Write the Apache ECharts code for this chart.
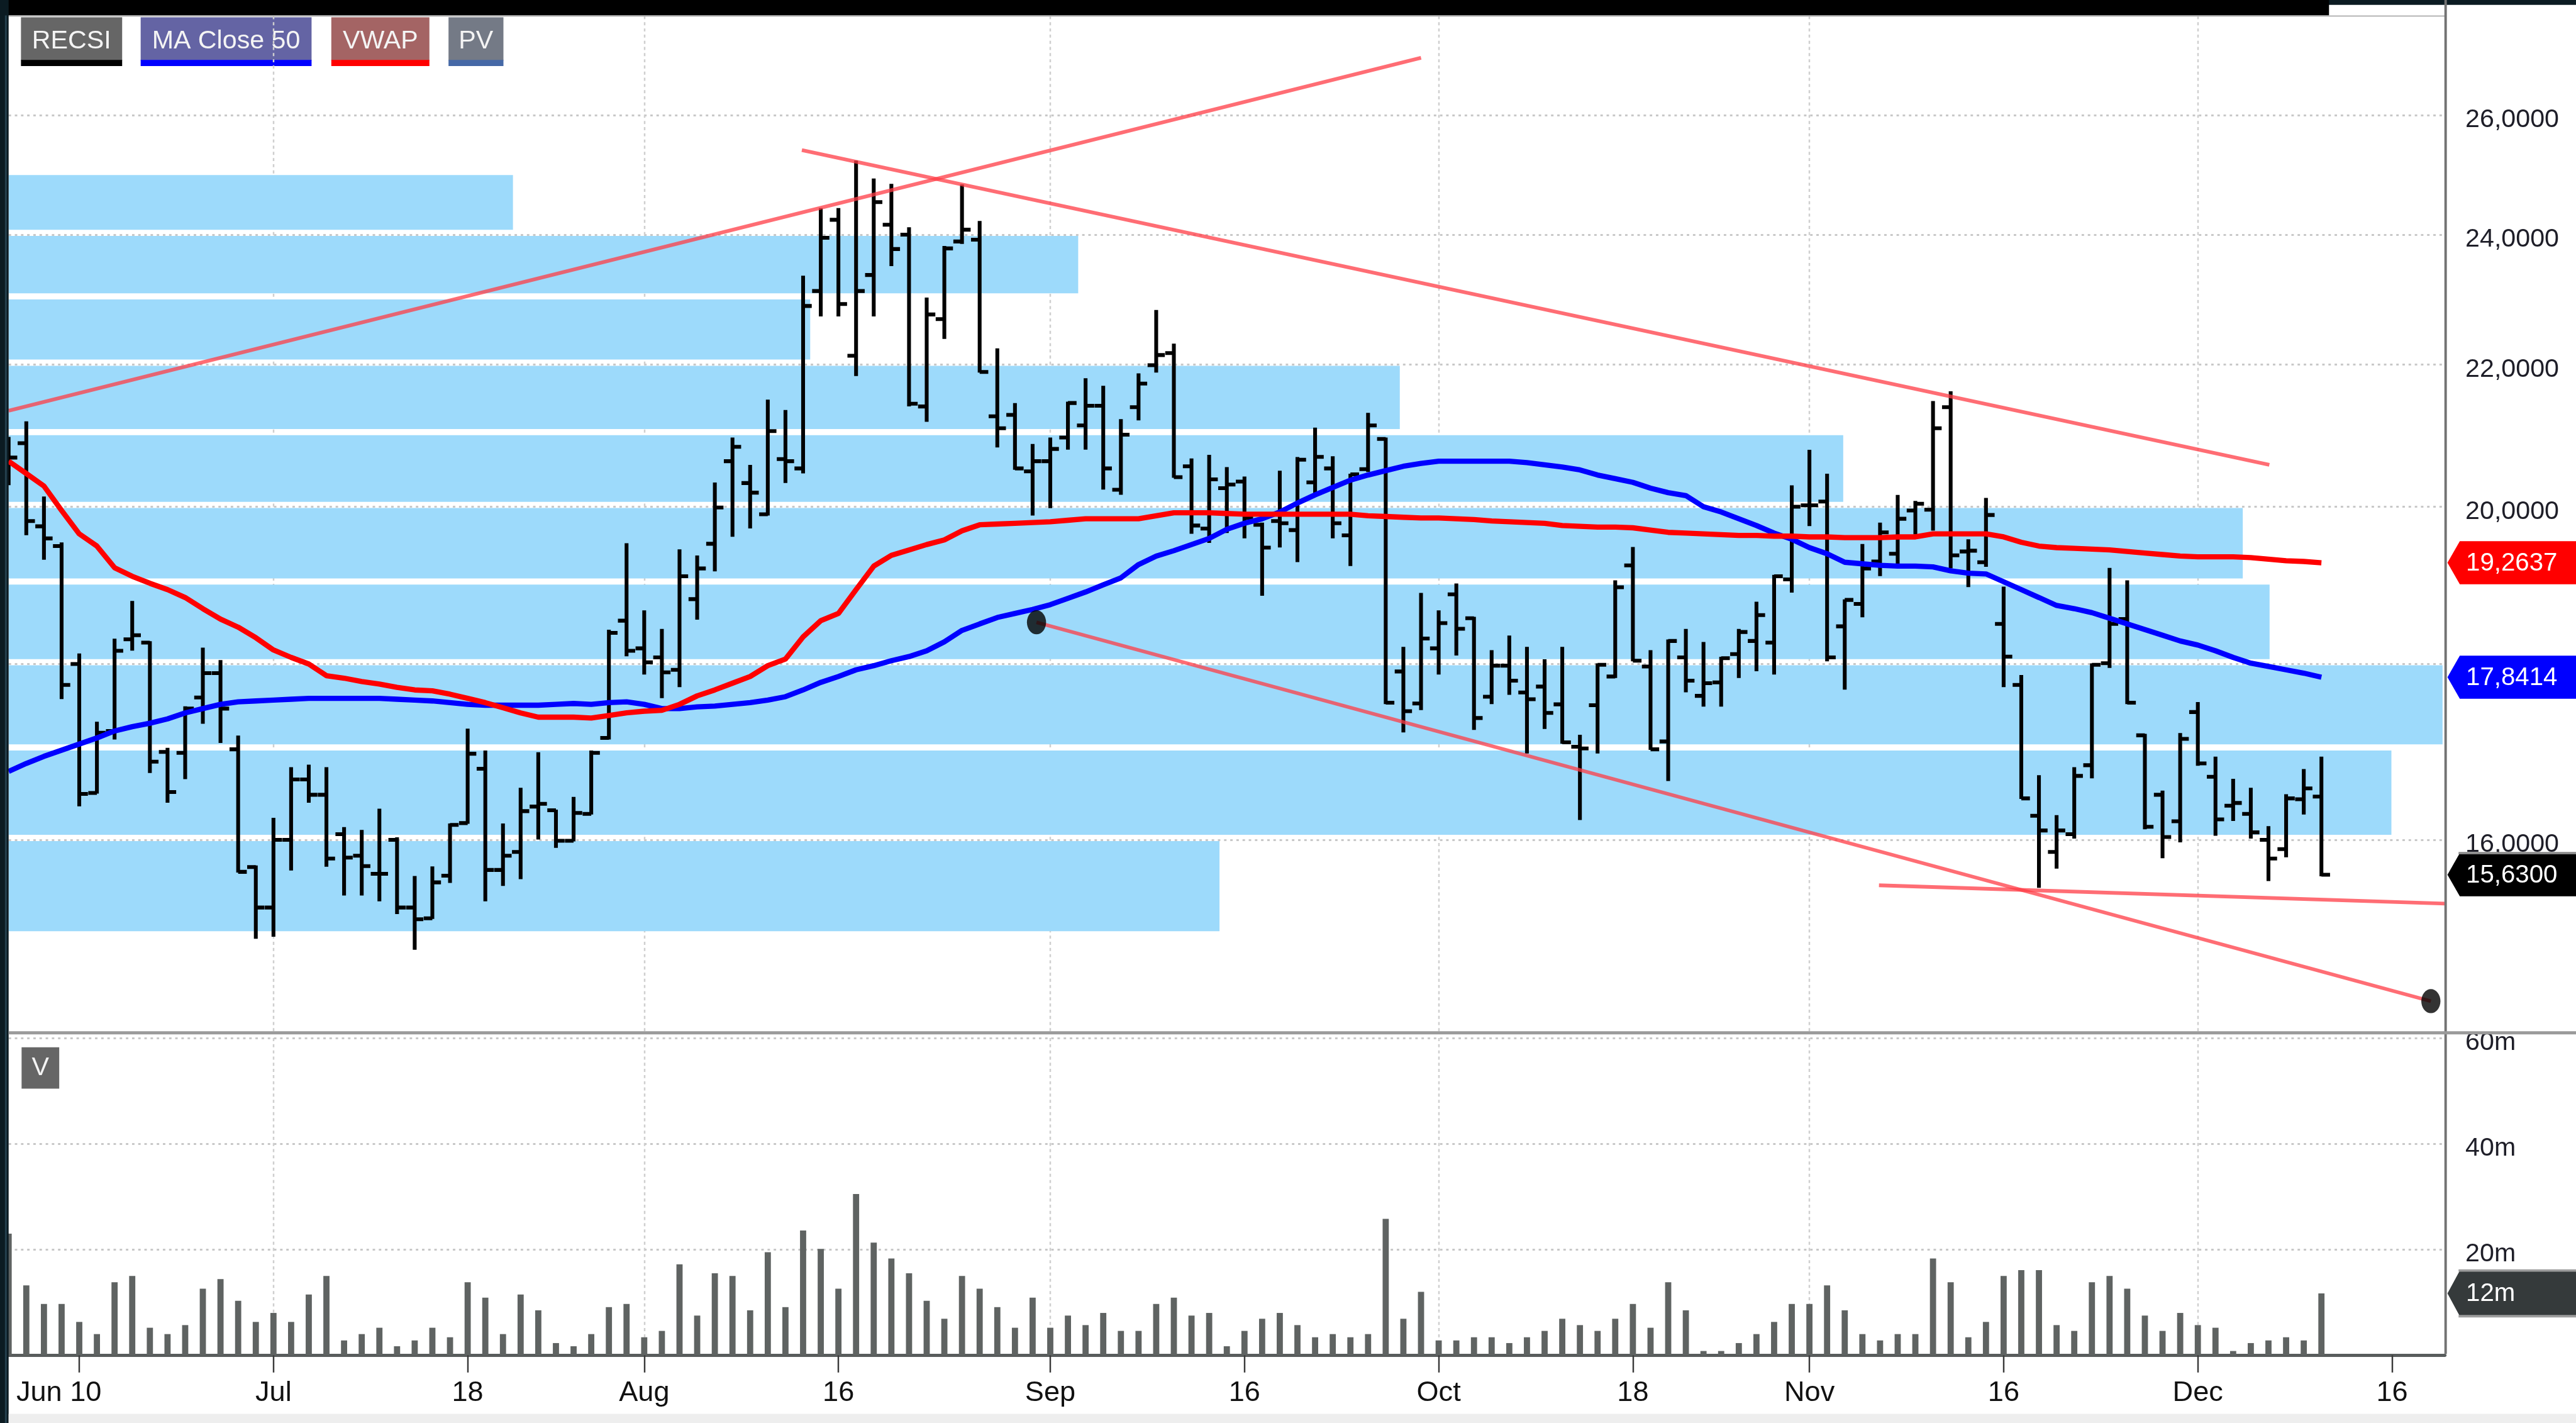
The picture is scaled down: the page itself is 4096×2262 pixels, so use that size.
<!DOCTYPE html>
<html>
<head>
<meta charset="utf-8">
<title>RECSI</title>
<script src="https://cdn.jsdelivr.net/npm/echarts@6.0.0/dist/echarts.min.js"></script>
<style>
  html, body { margin: 0; padding: 0; background: #fff; }
  #chart { width: 4096px; height: 2262px; }
</style>
</head>
<body>
<div id="chart"></div>
<script>
const S = 0.981;                 // reference px -> window px
const R = v => v * S;
const FONT = "'Liberation Sans', Arial, sans-serif";

// daily bars, one entry per slot on the x axis (slot 0 = left edge)
const opens = [
  20.50,20.87,19.74,19.48,18.00,16.51,17.21,18.30,18.26,16.97,
  16.96,17.60,17.89,17.00,15.71,15.29,16.00,16.66,16.49,16.06,
  15.83,15.64,16.00,15.29,15.18,15.62,16.18,16.78,15.68,15.87,
  16.36,16.32,15.99,16.28,17.13,18.53,18.19,18.08,17.93,18.80,
  19.51,20.62,20.32,19.90,20.65,20.52,23.11,24.24,22.13,23.36,
  24.16,24.00,21.39,22.68,23.89,23.92,21.25,21.27,20.48,20.62,
  20.95,21.12,21.40,20.23,21.38,21.99,22.17,20.55,19.71,20.25,
  20.34,19.76,19.81,19.69,20.33,20.52,19.62,20.51,20.93,17.91,
  17.53,18.19,18.86,18.56,17.61,17.98,17.66,17.73,17.52,17.03,
  17.51,17.85,19.23,17.97,17.09,18.08,17.62,17.78,18.12,18.28,
  18.26,19.05,20.02,20.07,18.46,18.74,19.28,19.38,19.95,19.96,
  21.38,19.41,19.27,18.49,17.75,16.26,15.87,16.06,16.82,18.01,
  18.55,17.16,16.49,16.20,17.43,16.69,16.37,16.28,16.00,15.90,
  16.44,16.47
];
const highs = [
  20.95,21.17,20.13,19.52,18.12,17.31,18.30,18.77,18.27,17.01,
  17.49,18.19,18.04,17.15,15.72,16.23,16.79,16.82,16.79,16.13,
  16.10,16.33,16.02,15.61,15.71,16.17,17.23,16.98,16.17,16.56,
  16.96,16.32,16.46,16.98,18.41,19.51,18.65,18.42,19.43,19.35,
  20.32,20.94,20.56,21.48,21.33,23.34,24.42,24.42,25.21,24.91,
  24.82,24.11,23.00,23.81,24.81,24.21,22.23,21.43,20.85,20.94,
  21.45,21.79,21.68,21.20,21.86,22.81,22.30,20.65,20.70,20.53,
  20.40,19.78,20.48,20.67,21.08,20.68,20.44,21.29,20.94,18.20,
  18.87,18.65,18.99,18.57,18.16,18.34,18.20,18.05,18.20,17.16,
  18.00,19.03,19.46,18.16,18.29,18.42,18.26,18.08,18.42,18.76,
  19.10,20.28,20.77,20.44,18.79,19.50,19.78,20.15,20.07,21.46,
  21.60,19.56,20.11,18.95,17.86,16.70,16.26,16.79,18.00,19.19,
  19.03,17.17,16.53,17.18,17.54,16.91,16.66,16.56,16.14,16.49,
  16.77,16.91
];
const lows = [
  20.30,19.63,19.31,17.59,16.37,16.51,17.12,18.17,16.74,16.41,
  16.67,17.30,17.08,15.66,14.98,15.00,15.68,16.41,15.72,15.42,
  15.42,15.36,15.23,14.87,15.18,15.55,16.18,15.36,15.52,15.59,
  16.01,15.92,15.99,16.28,17.12,18.10,17.88,17.60,17.73,18.55,
  19.16,19.61,19.72,19.89,20.33,20.46,22.73,22.73,21.84,22.73,
  23.51,21.40,21.18,22.39,23.86,21.89,20.82,20.51,19.89,19.99,
  20.79,20.79,20.24,20.17,21.20,21.89,20.40,19.65,19.53,19.66,
  19.59,18.85,19.47,19.28,20.19,19.59,19.23,20.48,17.53,17.20,
  17.46,17.88,18.11,17.23,17.53,17.64,16.96,17.24,17.07,16.22,
  16.96,17.84,18.04,17.00,16.65,17.67,17.50,17.50,17.84,17.92,
  17.88,18.89,19.75,18.04,17.70,18.58,19.10,19.25,19.64,19.69,
  19.20,18.96,19.22,17.73,16.45,15.50,15.70,16.02,16.68,17.96,
  17.53,16.12,15.81,15.98,16.82,16.05,16.21,16.02,15.57,15.82,
  16.28,15.62
];
const closes = [
  20.67,19.81,19.58,17.75,16.50,17.19,18.16,18.35,16.86,16.52,
  17.47,17.89,17.47,15.66,15.29,16.00,16.66,16.49,15.80,15.81,
  15.72,15.64,15.29,15.17,15.55,16.16,16.95,15.68,15.83,16.31,
  16.39,15.99,16.29,16.96,18.38,18.16,18.02,17.90,19.09,19.19,
  19.99,20.82,20.19,21.04,20.62,22.88,23.95,22.91,23.11,24.53,
  23.77,21.43,22.75,23.78,24.08,21.89,21.08,20.52,20.62,20.79,
  21.44,21.40,20.52,20.99,21.72,22.14,20.40,19.75,20.37,20.30,
  19.85,19.46,19.78,20.64,20.68,19.78,20.44,21.12,17.54,17.44,
  18.31,18.50,18.43,17.36,17.98,17.80,17.58,17.42,17.08,17.01,
  17.99,18.95,18.04,17.00,18.28,17.80,17.77,18.07,18.39,18.60,
  19.09,20.00,20.02,18.08,18.79,19.19,19.66,19.84,20.04,21.08,
  19.36,19.42,19.89,18.09,16.45,16.10,16.10,16.70,17.99,18.49,
  17.54,16.14,16.03,17.12,16.84,16.22,16.40,16.08,15.80,16.45,
  16.56,15.63
];
// volume, millions
const volumes = [
  23.0,13.2,9.7,9.7,6.3,4.0,13.8,15.0,5.2,4.0,
  5.7,12.6,14.4,10.3,6.3,8.0,6.3,11.5,15.0,2.8,
  4.0,5.2,1.7,2.8,5.2,3.4,13.8,10.9,4.0,11.5,
  8.5,2.3,1.7,4.0,9.1,9.7,3.4,4.6,17.2,7.5,
  15.5,15.0,8.5,19.5,9.1,23.6,20.1,12.6,30.5,21.3,
  18.3,15.5,10.3,6.9,15.0,12.6,9.1,5.2,10.9,5.2,
  7.5,5.7,8.0,4.6,4.6,9.7,10.9,7.5,8.0,1.7,
  4.6,6.9,8.0,5.7,3.4,4.0,3.4,4.0,25.8,6.9,
  12.0,2.8,2.8,3.4,3.4,2.3,3.4,4.6,6.9,5.7,
  4.6,6.9,9.7,5.2,13.8,8.5,0.8,0.8,2.3,4.0,
  6.3,9.7,9.7,13.2,8.5,4.0,2.8,4.0,4.0,18.3,
  13.8,3.4,6.3,15.0,16.1,16.1,5.7,4.6,13.8,15.0,
  12.6,7.5,4.6,8.0,5.7,5.2,0.8,2.3,2.8,3.4,
  2.8,11.7
];
const ma50 = [
  16.75,16.84,16.92,16.99,17.06,17.13,17.21,17.26,17.30,17.35,
  17.42,17.47,17.52,17.55,17.56,17.57,17.58,17.59,17.59,17.59,
  17.59,17.59,17.58,17.57,17.56,17.54,17.52,17.51,17.51,17.51,
  17.51,17.52,17.53,17.52,17.54,17.55,17.52,17.47,17.47,17.49,
  17.50,17.52,17.54,17.57,17.61,17.69,17.78,17.85,17.93,17.98,
  18.04,18.09,18.16,18.27,18.41,18.49,18.57,18.62,18.67,18.73,
  18.81,18.89,18.98,19.07,19.24,19.35,19.42,19.50,19.58,19.70,
  19.78,19.84,19.93,20.05,20.16,20.26,20.36,20.43,20.49,20.55,
  20.59,20.62,20.62,20.62,20.62,20.62,20.60,20.57,20.54,20.50,
  20.43,20.38,20.33,20.25,20.19,20.15,20.00,19.93,19.84,19.75,
  19.65,19.57,19.46,19.38,19.27,19.25,19.23,19.22,19.22,19.21,
  19.16,19.13,19.12,19.02,18.92,18.82,18.72,18.68,18.63,18.56,
  18.49,18.42,18.35,18.28,18.23,18.16,18.08,18.01,17.97,17.93,
  17.89,17.8414
];
const vwap = [
  20.62,20.45,20.28,19.95,19.64,19.48,19.20,19.09,19.00,18.92,
  18.82,18.68,18.55,18.45,18.32,18.17,18.08,18.00,17.86,17.83,
  17.79,17.76,17.72,17.69,17.68,17.64,17.59,17.54,17.48,17.42,
  17.37,17.37,17.37,17.36,17.39,17.42,17.44,17.45,17.52,17.62,
  17.69,17.77,17.85,17.98,18.06,18.33,18.53,18.62,18.92,19.22,
  19.36,19.43,19.50,19.56,19.68,19.76,19.77,19.78,19.79,19.80,
  19.82,19.84,19.84,19.84,19.84,19.88,19.92,19.92,19.92,19.91,
  19.90,19.90,19.90,19.90,19.90,19.90,19.90,19.88,19.87,19.86,
  19.85,19.85,19.84,19.83,19.81,19.80,19.79,19.78,19.75,19.74,
  19.73,19.73,19.72,19.69,19.66,19.65,19.64,19.63,19.62,19.62,
  19.61,19.61,19.60,19.60,19.59,19.59,19.59,19.60,19.60,19.64,
  19.64,19.64,19.64,19.60,19.53,19.48,19.46,19.45,19.44,19.43,
  19.41,19.39,19.37,19.35,19.34,19.34,19.34,19.33,19.31,19.29,
  19.28,19.2637
];

// price-volume profile: 1-unit price bands, length in % of the panel width
const pvLow = [15, 16, 17, 18, 19, 20, 21, 22, 23, 24];
const pvVolume = [49.7, 97.8, 99.9, 92.8, 91.7, 75.3, 57.1, 32.9, 43.9, 20.7];

// x axis
const slotCount = 139;
const tickSlots = [4, 15, 26, 36, 47, 59, 70, 81, 92, 102, 113, 124, 135];
const tickLabels = ['Jun 10', 'Jul', '18', 'Aug', '16', 'Sep', '16', 'Oct', '18', 'Nov', '16', 'Dec', '16'];
const monthSlots = [15, 36, 59, 81, 102, 124];

// y axes
const priceGridValues = [16, 18, 20, 22, 24, 26];
const priceLabelValues = [16, 20, 22, 24, 26];
const priceMin = 14.068, priceMax = 27.786;

// hand drawn trend lines, [slot, price] end points
const trendLines = [
  [[0, 21.33], [80.0, 27.02]],
  [[44.93, 25.40], [128.05, 20.57]],
  [[58.22, 18.51], [137.2, 14.36]],
  [[105.94, 15.52], [138, 15.33]]
];
const anchorDots = [[58.22, 18.51], [137.2, 14.36]];

const categories = Array.from({ length: slotCount }, (_, i) => String(i));
const labelBySlot = {};
tickSlots.forEach((s, i) => { labelBySlot[s] = tickLabels[i]; });

const fmtPrice = v => Number(v).toFixed(4).replace('.', ',');

function renderOhlc(params, api) {
  const i = api.value(0);
  const o = api.coord([i, api.value(1)]);
  const h = api.coord([i, api.value(2)]);
  const l = api.coord([i, api.value(3)]);
  const c = api.coord([i, api.value(4)]);
  const t = R(14);
  const st = () => ({ stroke: '#000', lineWidth: R(6.2) });
  return {
    type: 'group',
    children: [
      { type: 'line', shape: { x1: h[0], y1: h[1] - R(1), x2: l[0], y2: l[1] + R(1) }, style: st() },
      { type: 'line', shape: { x1: o[0] - t, y1: o[1], x2: o[0], y2: o[1] }, style: st() },
      { type: 'line', shape: { x1: c[0], y1: c[1], x2: c[0] + t, y2: c[1] }, style: st() }
    ]
  };
}

function renderBand(params, api) {
  const a = api.coord([0, api.value(2)]);
  const b = api.coord([api.value(0), api.value(1)]);
  return {
    type: 'rect',
    shape: { x: a[0], y: a[1] + R(2), width: b[0] - a[0], height: b[1] - a[1] - R(10) },
    style: { fill: '#9ddafb' }
  };
}

function tagRenderer(colors, texts, h, border) {
  return function (params, api) {
    const y = api.coord([0, api.value(1)])[1];
    const rx = params.coordSys.x + params.coordSys.width;
    const right = api.getWidth();
    const idx = params.dataIndex;
    const children = [{
      type: 'polygon',
      shape: { points: [[rx + R(4), y], [rx + R(24), y - h / 2], [right, y - h / 2], [right, y + h / 2], [rx + R(24), y + h / 2]] },
      style: { fill: colors[idx] }
    }];
    if (border[idx]) {
      children.push({ type: 'rect', shape: { x: rx + R(22), y: y - h / 2 - R(2), width: right, height: R(4) }, style: { fill: border[idx] } });
      if (border.both) {
        children.push({ type: 'rect', shape: { x: rx + R(22), y: y + h / 2 - R(2), width: right, height: R(4) }, style: { fill: border[idx] } });
      }
    }
    children.push({
      type: 'text',
      style: {
        text: texts[idx], x: rx + R(34), y: y + R(1), fill: '#fff',
        fontSize: R(41), fontFamily: FONT, align: 'left', verticalAlign: 'middle'
      }
    });
    return { type: 'group', children };
  };
}

const priceTagValues = [vwap[vwap.length - 1], ma50[ma50.length - 1], closes[closes.length - 1]];
const priceTagColors = ['#ff0000', '#0000ff', '#000000'];
const lastVolume = volumes[volumes.length - 1];

function legendBox(x1, x2, label, bg, stripe) {
  return {
    type: 'group',
    children: [
      { type: 'rect', shape: { x: R(x1), y: R(28), width: R(x2 - x1), height: R(70) }, style: { fill: bg } },
      { type: 'rect', shape: { x: R(x1), y: R(97), width: R(x2 - x1), height: R(10) }, style: { fill: stripe } },
      { type: 'text', style: { text: label, x: R((x1 + x2) / 2), y: R(67), fill: '#f4f4f4', fontSize: R(42), fontFamily: FONT, align: 'center', verticalAlign: 'middle' } }
    ]
  };
}

const chart = echarts.init(document.getElementById('chart'), null, { renderer: 'canvas' });

const dottedGrid = { color: '#c8c8c8', width: R(3), type: [R(4), R(6)] };
const dashedVert = { color: '#cfcfcf', width: R(2.5), type: [R(5), R(5)] };
// labels sit a little below their grid line, as in the source chart
const axisText = { color: '#1e1e28', fontSize: R(42), fontFamily: FONT, verticalAlign: 'top', lineHeight: R(16) };

const option = {
  animation: false,
  backgroundColor: '#ffffff',
  grid: [
    { left: R(14), top: R(26), width: R(3949), height: R(1646), outerBoundsMode: 'none' },
    { left: R(14), top: R(1682), width: R(3949), height: R(514), outerBoundsMode: 'none' }
  ],
  xAxis: [
    {
      type: 'category', gridIndex: 0, data: categories, boundaryGap: false,
      axisLine: { show: false }, axisTick: { show: false }, axisLabel: { show: false },
      splitLine: { show: true, interval: i => monthSlots.includes(i), lineStyle: dashedVert }
    },
    { type: 'value', gridIndex: 0, min: 0, max: slotCount - 1, show: false },
    { type: 'value', gridIndex: 0, min: 0, max: 100, show: false },
    {
      type: 'category', gridIndex: 1, data: categories, boundaryGap: false,
      axisLine: { show: true, lineStyle: { color: '#585c5c', width: R(5) } },
      axisTick: { show: true, interval: i => i in labelBySlot, length: R(28), lineStyle: { color: '#3a3a3a', width: R(2.5) } },
      axisLabel: {
        show: true, interval: i => i in labelBySlot, margin: R(39),
        color: '#111', fontSize: R(46), fontFamily: FONT,
        formatter: (v, i) => {
          const s = labelBySlot[i] || '';
          return i === tickSlots[0] ? '{first|' + s + '}' : s;
        },
        rich: { first: { color: '#111', fontSize: R(46), fontFamily: FONT, padding: [0, R(66), 0, 0] } }
      },
      splitLine: { show: true, interval: i => monthSlots.includes(i), lineStyle: dashedVert }
    }
  ],
  yAxis: [
    {
      type: 'log', gridIndex: 0, position: 'right', logBase: 10, min: priceMin, max: priceMax,
      axisLine: { show: false },
      axisTick: { show: false, customValues: priceGridValues },
      axisLabel: Object.assign({ customValues: priceLabelValues, margin: R(33), align: 'left', formatter: fmtPrice }, axisText),
      splitLine: { show: true, lineStyle: dottedGrid }
    },
    {
      type: 'value', gridIndex: 1, position: 'right', min: 0, max: 60, interval: 20,
      axisLine: { show: false }, axisTick: { show: false },
      axisLabel: Object.assign({ margin: R(33), align: 'left', formatter: v => (v === 0 ? '' : v + 'm') }, axisText),
      splitLine: { show: true, lineStyle: dottedGrid }
    }
  ],
  series: [
    {
      name: 'PV', type: 'custom', xAxisIndex: 2, yAxisIndex: 0, z: 1,
      renderItem: renderBand, encode: { x: 0, y: [1, 2] },
      data: pvLow.map((lo, i) => [pvVolume[i], lo, lo + 1])
    },
    {
      name: 'RECSI', type: 'custom', xAxisIndex: 0, yAxisIndex: 0, z: 3, clip: true,
      renderItem: renderOhlc, encode: { x: 0, y: [1, 2, 3, 4] },
      data: opens.map((o, i) => [i, o, highs[i], lows[i], closes[i]])
    },
    {
      name: 'MA Close 50', type: 'line', xAxisIndex: 0, yAxisIndex: 0, z: 4,
      data: ma50, showSymbol: false, symbol: 'none', lineStyle: { color: '#0000ff', width: R(8.5) }
    },
    {
      name: 'VWAP', type: 'line', xAxisIndex: 0, yAxisIndex: 0, z: 4,
      data: vwap, showSymbol: false, symbol: 'none', lineStyle: { color: '#ff0000', width: R(8.5) }
    },
    ...trendLines.map((seg, k) => ({
      name: 'trend' + k, type: 'line', xAxisIndex: 1, yAxisIndex: 0, z: 5,
      data: seg, symbol: 'none', lineStyle: { color: 'rgba(255, 60, 70, 0.75)', width: R(6) }
    })),
    {
      name: 'anchors', type: 'scatter', xAxisIndex: 1, yAxisIndex: 0, z: 6,
      data: anchorDots, symbol: 'circle', symbolSize: [R(31), R(39)], itemStyle: { color: '#000' }
    },
    {
      name: 'V', type: 'bar', xAxisIndex: 3, yAxisIndex: 1, z: 3,
      data: volumes, barWidth: R(10), itemStyle: { color: '#5f6362' }
    },
    {
      name: 'priceTags', type: 'custom', xAxisIndex: 1, yAxisIndex: 0, z: 20, clip: false,
      renderItem: tagRenderer(priceTagColors, priceTagValues.map(fmtPrice), R(70), { 2: '#8a8a8a' }),
      data: priceTagValues.map(v => [0, v])
    },
    {
      name: 'volumeTag', type: 'custom', xAxisIndex: 3, yAxisIndex: 1, z: 20, clip: false,
      renderItem: tagRenderer(['#353a3b'], [Math.round(lastVolume) + 'm'], R(74), { 0: '#9c9c9c', both: true }),
      data: [[0, lastVolume]]
    }
  ],
  graphic: [
    { type: 'rect', z: 50, shape: { x: 0, y: 0, width: 4096, height: R(8) }, style: { fill: '#0b1b22' } },
    { type: 'rect', z: 50, shape: { x: 0, y: 0, width: R(3775), height: R(25) }, style: { fill: '#000' } },
    { type: 'rect', z: 50, shape: { x: R(14), y: R(25), width: R(3949), height: R(2) }, style: { fill: '#b4b4b4' } },
    { type: 'rect', z: 50, shape: { x: 0, y: 0, width: R(14), height: 2262 }, style: { fill: '#0b1b22' } },
    { type: 'rect', z: 50, shape: { x: R(8), y: R(25), width: R(3), height: 2262 }, style: { fill: '#24404e' } },
    { type: 'rect', z: 50, shape: { x: R(3962), y: 0, width: R(4), height: R(2194) }, style: { fill: '#737373' } },
    { type: 'rect', z: 50, shape: { x: R(14), y: R(1671), width: 4096, height: R(5) }, style: { fill: '#9a9a9a' } },
    { type: 'rect', z: 50, shape: { x: R(14), y: R(2291), width: 4096, height: R(20) }, style: { fill: '#eeeeee' } },
    legendBox(34, 198, 'RECSI', '#666666', '#000000'),
    legendBox(228, 505, 'MA Close 50', '#6464a4', '#0000ff'),
    legendBox(537, 696, 'VWAP', '#a46464', '#ff0000'),
    legendBox(727, 816, 'PV', '#747a86', '#4568a6'),
    {
      type: 'group', children: [
        { type: 'rect', shape: { x: R(35), y: R(1697), width: R(61), height: R(67) }, style: { fill: '#666666' } },
        { type: 'text', style: { text: 'V', x: R(65.5), y: R(1731), fill: '#f4f4f4', fontSize: R(42), fontFamily: FONT, align: 'center', verticalAlign: 'middle' } }
      ]
    }
  ]
};

chart.setOption(option);
window.addEventListener('resize', () => chart.resize());
</script>
</body>
</html>
